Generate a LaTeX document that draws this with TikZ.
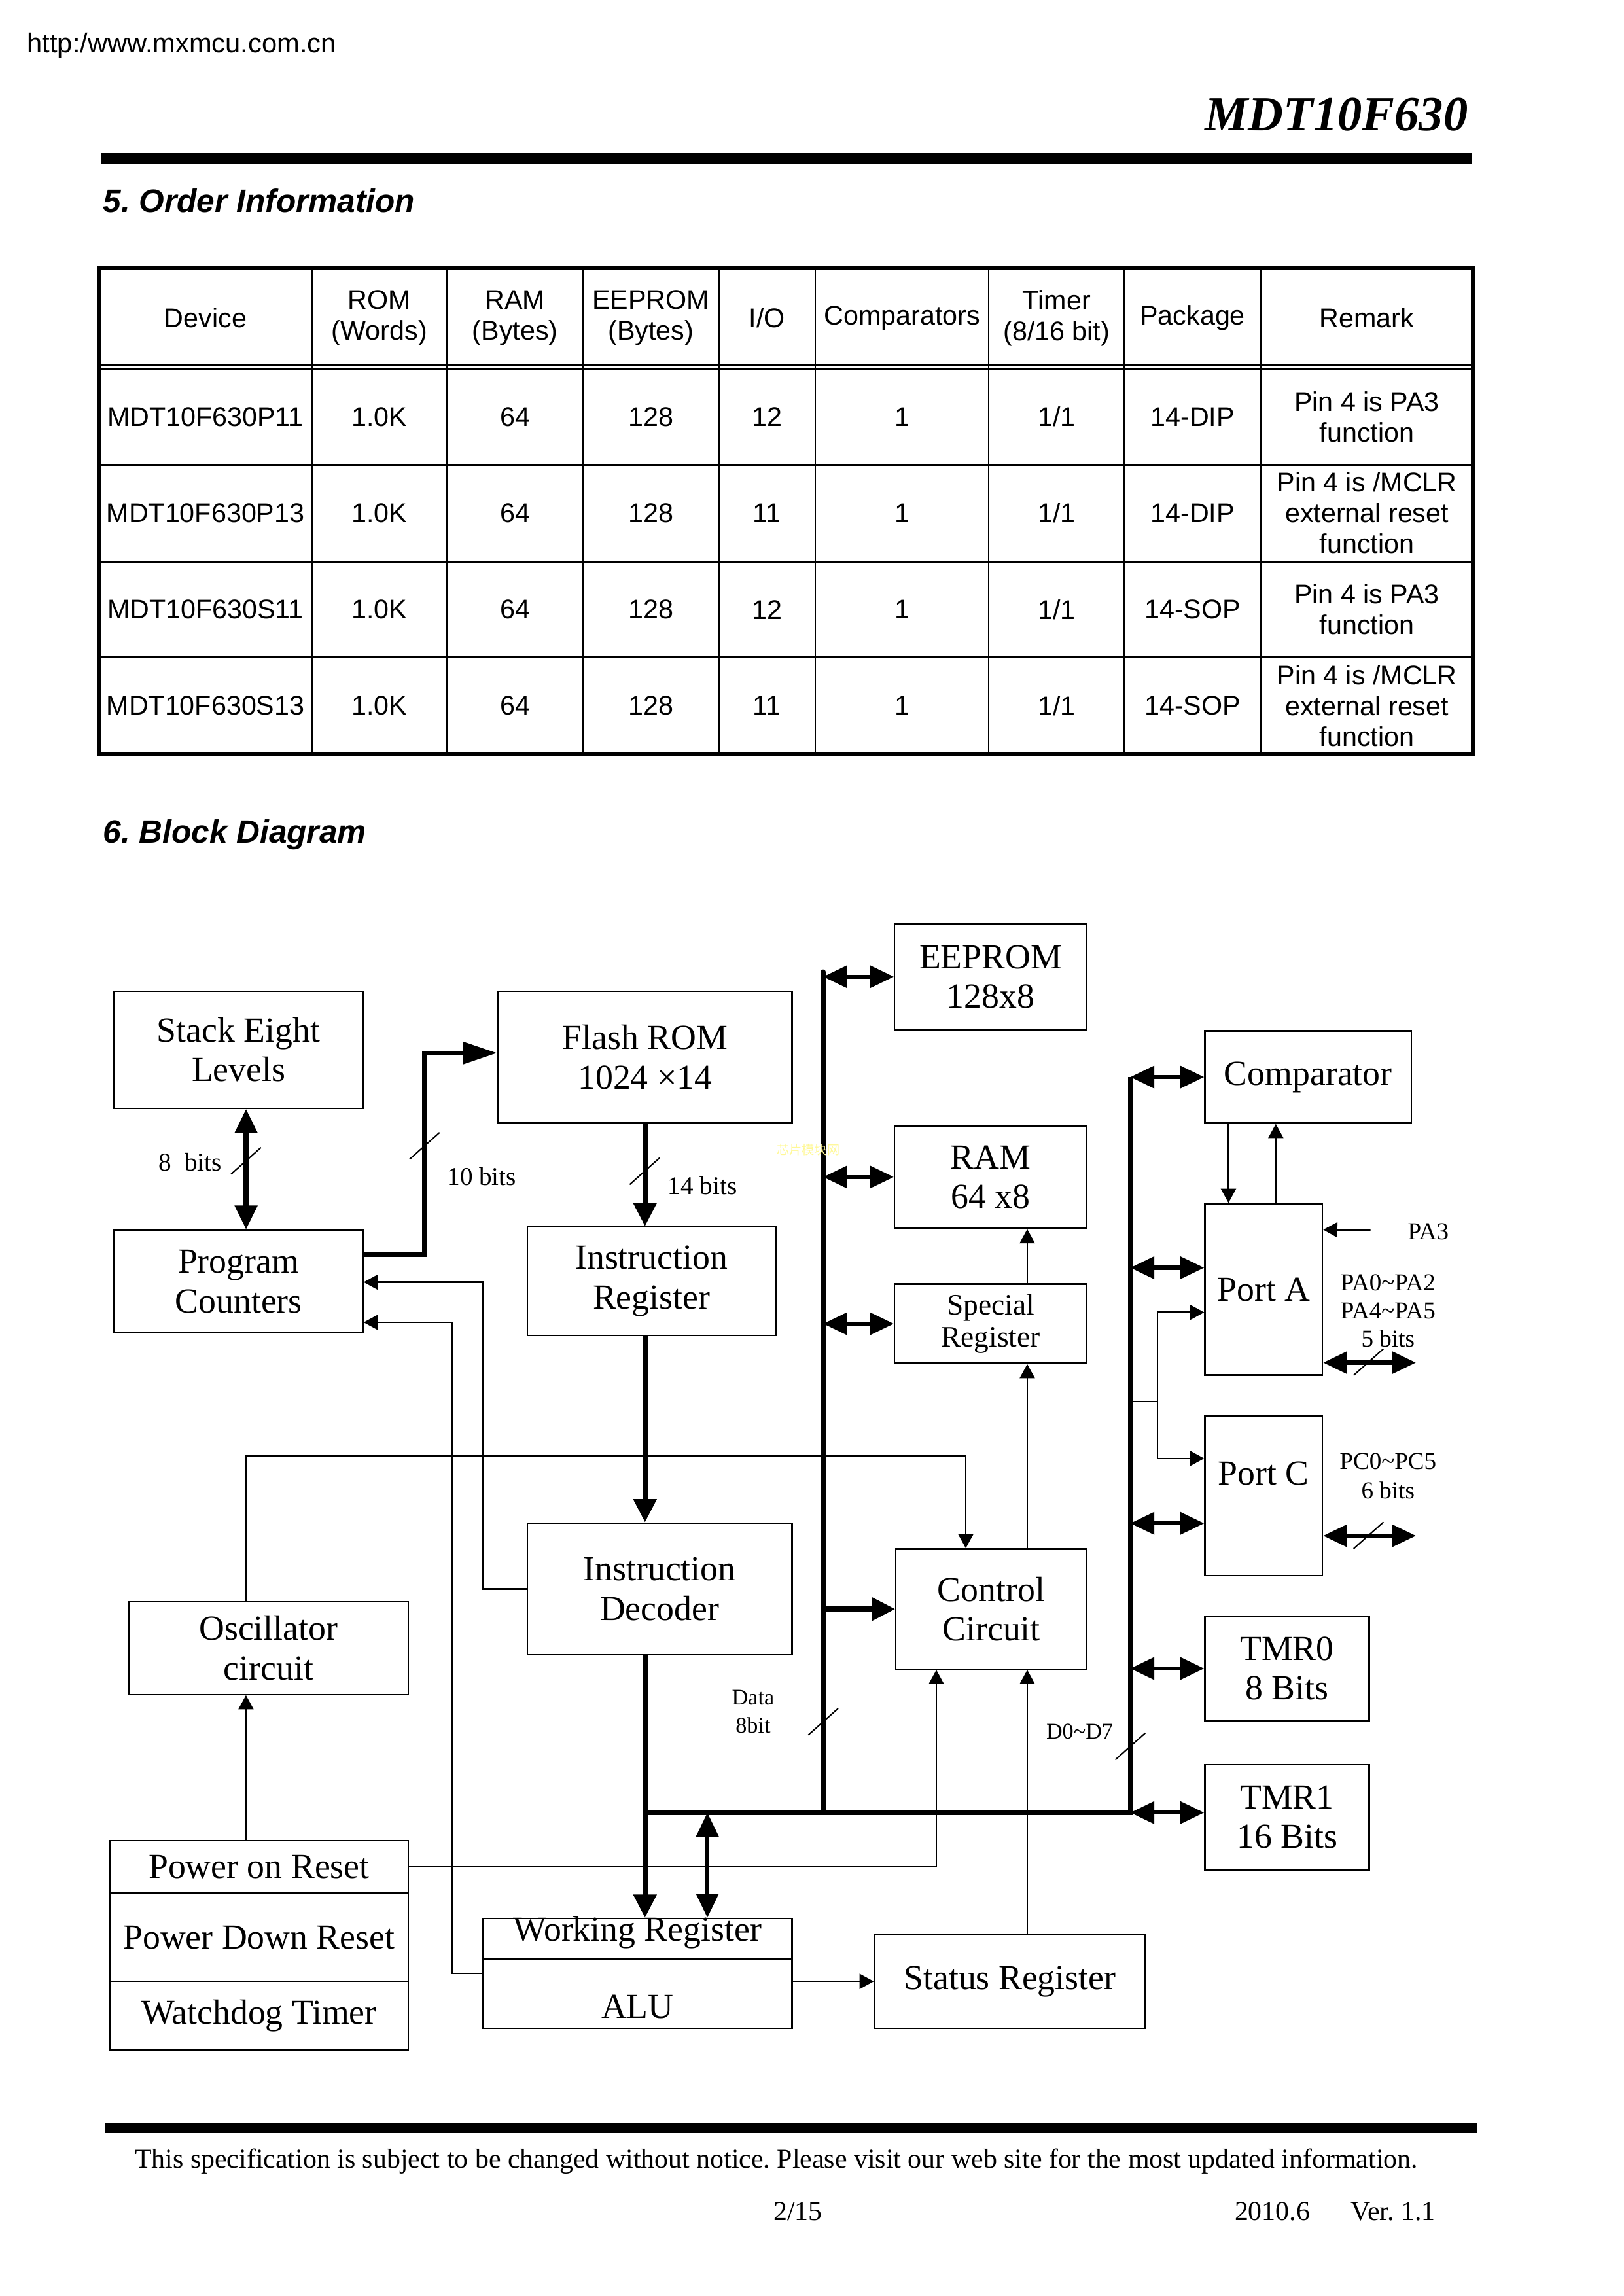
\documentclass[tikz,border=0pt]{standalone}
\usepackage{fontspec}
\setmainfont{Liberation Serif}
\newfontfamily\arialf{Liberation Sans}
\newfontfamily\cjkf{Noto Sans CJK SC}
\usetikzlibrary{arrows.meta,calc}
\newcommand\fbig{\fontsize{12.9}{14.5}\selectfont}
\newcommand\fmid{\fontsize{10.9}{11.7}\selectfont}
\newcommand\fsmall{\fontsize{9.4}{11}\selectfont}
\newcommand\fpa{\fontsize{8.9}{10.2}\selectfont}
\newcommand\ftiny{\fontsize{8.2}{10}\selectfont}
\newcommand\tbl{\arialf\fontsize{9.9}{11.3}\selectfont}
\newcommand\ffoot{\fontsize{10.05}{12}\selectfont}
\definecolor{wm}{RGB}{255,248,150}
\frenchspacing
\begin{document}
\begin{tikzpicture}[x=0.23813pt,y=-0.23813pt,
  box/.style={draw, line width=0.55pt, inner sep=0pt, align=center, font=\fbig},
  sz/.style 2 args={minimum width=#1*0.23813pt, minimum height=#2*0.23813pt},
  bus/.style={line width=1.8pt},
  wire/.style={line width=0.6pt},
  thickarrow/.style={line width=1.8pt, -{Triangle[length=8.5pt,width=8.2pt]}},
  longarrow/.style={line width=1.8pt, -{Triangle[length=12.5pt,width=7.8pt]}},
  dbl/.style={line width=1.5pt, {Triangle[length=8.8pt,width=8pt]}-{Triangle[length=8.8pt,width=8pt]}},
  thinarrow/.style={line width=0.6pt, -{Triangle[length=5.2pt,width=5.5pt]}},
  slash/.style={line width=0.5pt},
  lbl/.style={inner sep=0pt, align=center},
  tcell/.style={inner sep=0pt, align=center, font=\tbl}]
\useasboundingbox (0,0) rectangle (2500.5,3536.6);

% ---------------- page header ----------------
\node[lbl, anchor=west, font=\arialf\fontsize{10}{12}\selectfont] (url) at (41,70) {http:/www.mxmcu.com.cn};
\node[lbl, anchor=east, font=\bfseries\itshape\fontsize{17.9}{20}\selectfont] (title) at (2262,176) {MDT10F630};
\fill (155,236) rectangle (2268,252);
\node[lbl, anchor=west, font=\arialf\bfseries\itshape\fontsize{11.9}{14}\selectfont] (sec5) at (158,309) {5. Order Information};

% ---------------- table ----------------
\foreach \x in {480,689,898,1107,1256,1523,1732,1942}
  \draw[line width=0.6pt] (\x,413) -- (\x,1162);
\foreach \y in {562,568,716,865,1012}
  \draw[line width=0.6pt] (153,\y) -- (2269,\y);
\draw[line width=1.5pt] (153,413) rectangle (2269,1162);

\foreach \x/\t [count=\i] in {316.5/Device,584.5/{ROM\\(Words)},793.5/{RAM\\(Bytes)},1002.5/{EEPROM\\(Bytes)},1181.5/{I/O},1389.5/Comparators,1627.5/{Timer\\(8/16 bit)},1837/Package,2105.5/Remark}
  \node[tcell] (h\i) at (\x,490) {\t};

\foreach \y/\dev/\io/\pk/\rm [count=\r] in {
   642/MDT10F630P11/12/14-DIP/{Pin 4 is PA3\\function},
   790/MDT10F630P13/11/14-DIP/{Pin 4 is /MCLR\\external reset\\function},
   939/MDT10F630S11/12/14-SOP/{Pin 4 is PA3\\function},
   1087/MDT10F630S13/11/14-SOP/{Pin 4 is /MCLR\\external reset\\function}}{
  \node[tcell] (r\r c1) at (316.5,\y) {\dev};
  \node[tcell] (r\r c2) at (584.5,\y) {1.0K};
  \node[tcell] (r\r c3) at (793.5,\y) {64};
  \node[tcell] (r\r c4) at (1002.5,\y) {128};
  \node[tcell] (r\r c5) at (1181.5,\y) {\io};
  \node[tcell] (r\r c6) at (1389.5,\y) {1};
  \node[tcell] (r\r c7) at (1627.5,\y) {1/1};
  \node[tcell] (r\r c8) at (1837,\y) {\pk};
  \node[tcell] (r\r c9) at (2105.5,\y) {\rm};
}

\node[lbl, anchor=west, font=\arialf\bfseries\itshape\fontsize{11.9}{14}\selectfont] (sec6) at (158,1286) {6. Block Diagram};

% ---------------- blocks ----------------
\node[box, sz={383}{180}] (stack) at (367.5,1617) {Stack Eight\\Levels};
\node[box, sz={453}{203}] (flash) at (993.5,1628.5) {Flash ROM\\1024 ×14};
\node[box, sz={296}{163}] (eeprom) at (1526,1504.5) {EEPROM\\128x8};
\node[box, sz={318}{142}] (comp) at (2015,1659) {Comparator};
\node[box, sz={296}{158}] (ram) at (1526,1813) {RAM\\64 x8};
\node[box, sz={383}{158}] (pc) at (367.5,1974) {Program\\Counters};
\node[box, sz={383}{167}] (ir) at (1003.5,1973.5) {Instruction\\Register};
\node[box, sz={296}{122}, font=\fmid] (spec) at (1526,2039) {Special\\Register};
\node[box, sz={181}{264}] (porta) at (1946.5,1986) {Port A};
\node[box, sz={181}{246}] (portc) at (1946.5,2304) {};
\node[lbl, font=\fbig, anchor=base] (portclbl) at (1946.5,2287) {Port C};
\node[box, sz={408}{203}] (idec) at (1016,2447.5) {Instruction\\Decoder};
\node[box, sz={294}{185}] (ctrl) at (1527,2478.5) {Control\\Circuit};
\node[box, sz={431}{143}] (osc) at (413.5,2538.5) {Oscillator\\circuit};
\node[box, sz={253}{160}] (tmr0) at (1982.5,2570) {TMR0\\8 Bits};
\node[box, sz={253}{162}] (tmr1) at (1982.5,2799) {TMR1\\16 Bits};
\node[box, sz={460}{81}] (por) at (399,2875.5) {Power on Reset};
\node[box, sz={460}{136}] (pdr) at (399,2984) {Power Down Reset};
\node[box, sz={460}{106}] (wdt) at (399,3105) {Watchdog Timer};
\node[box, sz={476}{63}] (wr) at (982,2986.5) {};
\node[box, sz={476}{106}] (alu) at (982,3071) {};
\node[lbl, font=\fbig, anchor=base] (wrlbl) at (982,2990) {Working Register};
\node[lbl, font=\fbig, anchor=base] (alulbl) at (982,3109) {ALU};
\node[box, sz={417}{144}] (status) at (1555.5,3052) {Status Register};

% ---------------- buses ----------------
\coordinate (mbtop) at (1268,1497);
\coordinate (mbbot) at (1268,2792);
\coordinate (hbL) at (flash.south |- mbbot);
\coordinate (hbR) at (1741,2792);
\coordinate (rbtop) at (hbR |- comp.west);
\draw[bus, line cap=round] (mbtop) -- (mbbot);
\draw[bus, line join=miter] (hbL) -- (hbR) -- (rbtop);

\draw[dbl] (mbtop |- eeprom.west) -- (eeprom.west);
\draw[dbl] (mbtop |- ram.west) -- (ram.west);
\draw[dbl] (mbtop |- spec.west) -- (spec.west);
\draw[thickarrow] (mbtop |- ctrl.west) -- (ctrl.west);

\coordinate (pa1) at ($(porta.north west)!0.375!(porta.south west)$);
\coordinate (pc2) at ($(portc.north west)!0.671!(portc.south west)$);
\draw[dbl] (rbtop) -- (comp.west);
\draw[dbl] (hbR |- pa1) -- (pa1);
\draw[dbl] (hbR |- pc2) -- (pc2);
\draw[dbl] (hbR |- tmr0.west) -- (tmr0.west);
\draw[dbl] (hbR) -- (hbR -| tmr1.west);

% instruction path
\draw[thickarrow] (flash.south) -- (flash.south |- ir.north);
\draw[thickarrow] (flash.south |- ir.south) -- (flash.south |- idec.north);
\draw[thickarrow] (flash.south |- idec.south) -- (flash.south |- wr.north);
\coordinate (wrx) at ($(wr.north west)!0.725!(wr.north east)$);
\draw[dbl] (wrx |- mbbot) -- (wrx);

% stack and program counter
\coordinate (stk) at ($(stack.south west)!0.53!(stack.south east)$);
\draw[dbl, line width=1.8pt] (stk) -- (stk |- pc.north);
\coordinate (pcout) at ($(pc.north east)!0.24!(pc.south east)$);
\coordinate (flin) at ($(flash.north west)!0.468!(flash.south west)$);
\coordinate (jog) at (654,1800);
\draw[longarrow, line join=miter] (pcout) -| (jog |- flin) -- (flin);

% thin control lines
\coordinate (pcA) at ($(pc.north east)!0.506!(pc.south east)$);
\coordinate (pcB) at ($(pc.north east)!0.892!(pc.south east)$);
\coordinate (lx1) at (744,2200);
\coordinate (lx2) at (697,2200);
\draw[thinarrow] (idec.west) -| (lx1 |- pcA) -- (pcA);
\coordinate (alumid) at ($(wr.north west)!0.5!(alu.south west)$);
\draw[thinarrow] (alumid) -| (lx2 |- pcB) -- (pcB);

\coordinate (oscT) at ($(osc.north west)!0.42!(osc.north east)$);
\coordinate (oy) at (400,2243);
\coordinate (ctrlT) at ($(ctrl.north west)!0.367!(ctrl.north east)$);
\draw[thinarrow] (oscT) -- (oscT |- oy) -| (ctrlT);

\coordinate (resT) at ($(por.north west)!0.4565!(por.north east)$);
\draw[thinarrow] (resT) -- (resT |- osc.south);
\coordinate (ctrlB) at ($(ctrl.south west)!0.214!(ctrl.south east)$);
\draw[thinarrow] (por.east) -| (ctrlB);

\draw[thinarrow] (alu.east |- status.west) -- (status.west);
\coordinate (stT) at ($(status.north west)!0.564!(status.north east)$);
\draw[thinarrow] (stT) -- (stT |- ctrl.south);
\draw[thinarrow] (stT |- ctrl.north) -- (stT |- spec.south);
\draw[thinarrow] (stT |- spec.north) -- (stT |- ram.south);

\coordinate (cpd) at ($(porta.north west)!0.204!(porta.north east)$);
\coordinate (cpu) at ($(porta.north west)!0.602!(porta.north east)$);
\draw[thinarrow] (cpd |- comp.south) -- (cpd);
\draw[thinarrow] (cpu) -- (cpu |- comp.south);

\coordinate (pa3) at ($(porta.north east)!0.155!(porta.south east)$);
\coordinate (pa3src) at (2111,1895);
\draw[thinarrow] (pa3src) -- (pa3);

\coordinate (vx) at (1783,2159);
\coordinate (pa2) at ($(porta.north west)!0.633!(porta.south west)$);
\coordinate (pcc1) at ($(portc.north west)!0.268!(portc.south west)$);
\draw[wire] (hbR |- vx) -- (vx);
\draw[thinarrow] (vx) |- (pa2);
\draw[thinarrow] (vx) |- (pcc1);

% external port lines
\coordinate (extx) at (2181,2000);
\coordinate (paE) at ($(porta.north east)!0.924!(porta.south east)$);
\coordinate (pcE) at ($(portc.north east)!0.748!(portc.south east)$);
\draw[dbl] (paE) -- (extx |- paE);
\draw[dbl] (pcE) -- (extx |- pcE);

% bus width slashes
\foreach \cx/\cy in {379/1788, 654/1765, 993/1804, 1268/2652, 1741/2690, 2108/2098, 2108/2365}
  \draw[slash] (\cx,\cy) ++(-23,20.5) -- ++(46,-41);

% labels
\node[lbl, font=\fsmall] (l8) at (293,1790) {8\ \ bits};
\node[lbl, font=\fsmall] (l10) at (742,1812) {10 bits};
\node[lbl, font=\fsmall] (l14) at (1082,1826) {14 bits};
\node[lbl, font=\ftiny] (ldata) at (1160,2615) {Data};
\node[lbl, font=\ftiny] (l8bit) at (1160,2658) {8bit};
\node[lbl, font=\ftiny] (ld0) at (1663,2667) {D0\textasciitilde D7};
\node[lbl, font=\fpa] (lpa3) at (2200,1897) {PA3};
\node[lbl, font=\fpa] (lpa0) at (2138,1976) {PA0\textasciitilde PA2};
\node[lbl, font=\fpa] (lpa4) at (2138,2019) {PA4\textasciitilde PA5};
\node[lbl, font=\fpa] (l5b) at (2138,2062) {5 bits};
\node[lbl, font=\fpa] (lpc0) at (2138,2251) {PC0\textasciitilde PC5};
\node[lbl, font=\fpa] (l6b) at (2138,2296) {6 bits};
\node[lbl, font=\cjkf\fontsize{4.6}{5}\selectfont, text=wm] (wmark) at (1245,1771) {芯片模块网};

% ---------------- footer ----------------
\fill (162,3270) rectangle (2276,3286);
\node[lbl, anchor=west, font=\ffoot] (foot) at (207,3329) {This specification is subject to be changed without notice. Please visit our web site for the most updated information.};
\node[lbl, font=\ffoot] (page) at (1229,3406) {2/15};
\node[lbl, anchor=west, font=\ffoot] (ver) at (1901,3406) {2010.6\hspace{15pt}Ver. 1.1};
\end{tikzpicture}
\end{document}
